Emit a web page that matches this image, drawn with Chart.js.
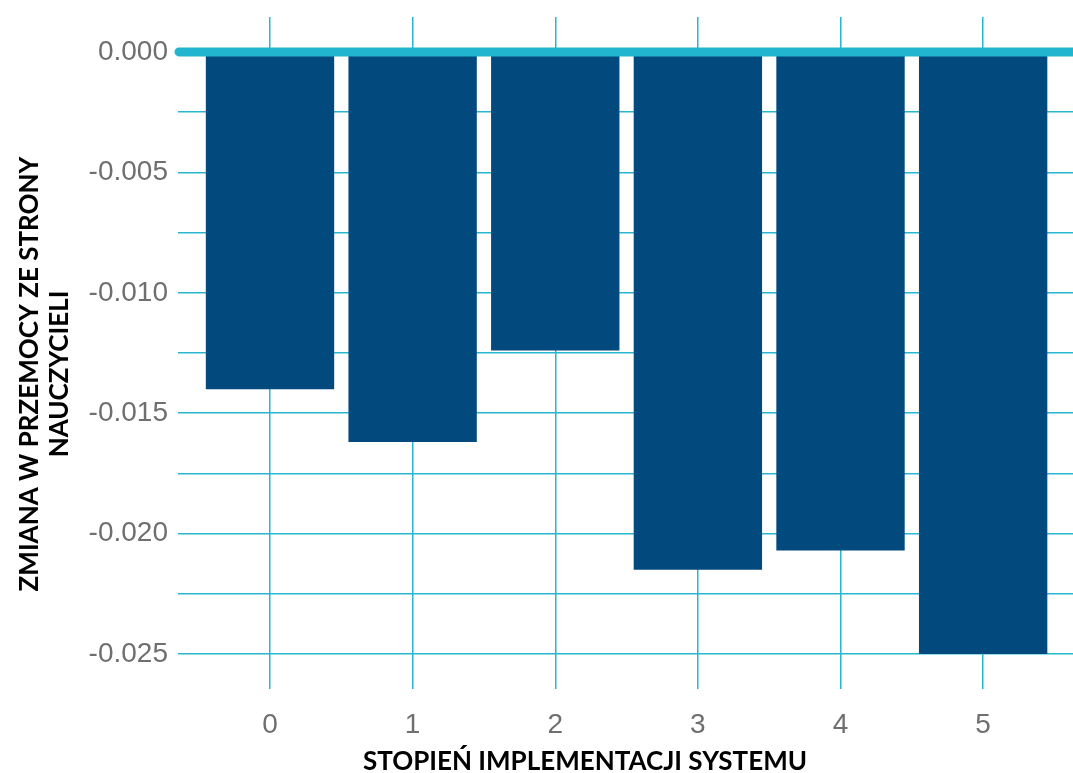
<!DOCTYPE html>
<html>
<head>
<meta charset="utf-8">
<script src="https://cdn.jsdelivr.net/npm/chart.js@4/dist/chart.umd.min.js"></script>
<style>
  html, body { margin: 0; padding: 0; background: #ffffff; overflow: hidden; }
  #wrap { width: 1073px; height: 773px; position: relative; }
</style>
</head>
<body>
<div id="wrap"><canvas id="myChart"></canvas></div>
<script>
// dane z wykresu
const stopnie = [0, 1, 2, 3, 4, 5];
const zmiana = [-0.0140, -0.0162, -0.0124, -0.0215, -0.0207, -0.0250];
const tytulX = 'STOPIEŃ IMPLEMENTACJI SYSTEMU';
const tytulY = ['ZMIANA W PRZEMOCY ZE STRONY', 'NAUCZYCIELI'];

const kolorSlupka = '#024a7e';
const kolorSiatki = '#29b6d0';

// gruba linia na zerze, nad slupkami
const liniaZero = {
    id: 'liniaZero',
    afterDatasetsDraw(chart) {
        const { ctx, chartArea, scales } = chart;
        const y0 = scales.y.getPixelForValue(0);
        ctx.save();
        ctx.strokeStyle = '#22b5d0';
        ctx.lineWidth = 9;
        ctx.lineCap = 'round';
        ctx.beginPath();
        ctx.moveTo(chartArea.left + 1, y0);
        ctx.lineTo(chartArea.right + 10, y0);
        ctx.stroke();
        ctx.restore();
    }
};

// tytuly osi
const tytulyOsi = {
    id: 'tytulyOsi',
    afterDraw(chart) {
        const ctx = chart.ctx;
        ctx.save();
        ctx.fillStyle = '#000000';
        ctx.font = 'bold 26px Lato';
        ctx.textAlign = 'center';
        ctx.textBaseline = 'middle';
        ctx.fillText(tytulX, 585, 762);
        ctx.translate(0, 374);
        ctx.rotate(-Math.PI / 2);
        ctx.fillText(tytulY[0], 0, 30);
        ctx.fillText(tytulY[1], 0, 60);
        ctx.restore();
    }
};

let myChart;

function crearGrafica() {
    if (myChart) {
        myChart.destroy();
    }
    const ctx = document.getElementById('myChart').getContext('2d');

    myChart = new Chart(ctx, {
        type: 'bar',
        data: {
            datasets: [{
                data: stopnie.map((s, i) => ({ x: s, y: zmiana[i] })),
                backgroundColor: kolorSlupka,
                borderWidth: 0,
                barPercentage: 0.9,
                categoryPercentage: 1.0
            }]
        },
        options: {
            responsive: true,
            maintainAspectRatio: false,
            animation: false,
            layout: { padding: { top: 17, right: 0, left: 0, bottom: 0 } },
            plugins: {
                legend: { display: false },
                tooltip: { enabled: false }
            },
            scales: {
                x: {
                    type: 'linear',
                    min: -0.645,
                    max: 5.63,
                    offset: false,
                    afterFit: (scale) => {
                        scale.height = 84;
                        scale.paddingLeft = 0;
                        scale.paddingRight = 0;
                    },
                    border: { display: false },
                    grid: { color: kolorSiatki, lineWidth: 1.5, drawTicks: false, offset: false },
                    ticks: {
                        stepSize: 1,
                        includeBounds: false,
                        padding: 19,
                        color: '#6f6f6f',
                        font: { family: 'Liberation Sans', size: 28 }
                    }
                },
                y: {
                    min: -0.02645,
                    max: 0.00145,
                    afterFit: (scale) => {
                        scale.width = 178;
                        scale.paddingTop = 0;
                        scale.paddingBottom = 0;
                    },
                    border: { display: false },
                    grid: { color: kolorSiatki, lineWidth: 1.5, drawTicks: false },
                    ticks: {
                        stepSize: 0.0025,
                        includeBounds: false,
                        padding: 10,
                        color: '#6f6f6f',
                        font: { family: 'Liberation Sans', size: 28 },
                        callback: (v) => {
                            const k = Math.round(v / 0.0025);
                            return k % 2 === 0 ? v.toFixed(3) : '';
                        }
                    }
                }
            }
        },
        plugins: [liniaZero, tytulyOsi]
    });
}

crearGrafica();
</script>
</body>
</html>
